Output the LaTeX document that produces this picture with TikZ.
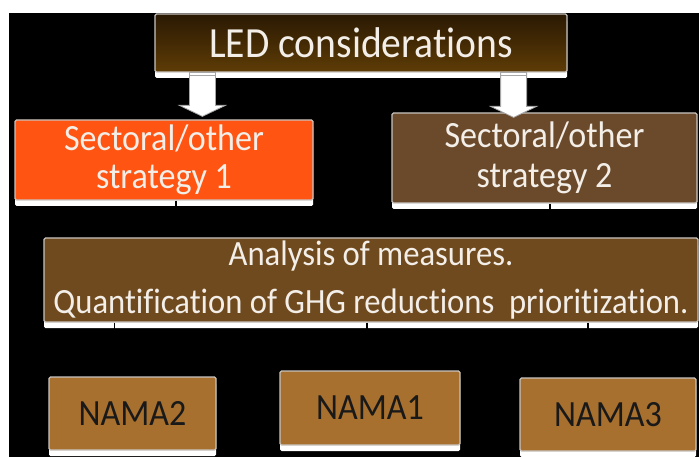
\documentclass[tikz,border=0pt]{standalone}
\usepackage{fontspec}
\setmainfont{Carlito}[FakeStretch=0.92, Ligatures=NoCommon]
\usetikzlibrary{calc,shadows}

\definecolor{ledtop}{HTML}{2A1903}
\definecolor{ledbot}{HTML}{5E3C06}
\definecolor{strorange}{HTML}{FF5412}
\definecolor{strbrown}{HTML}{6B4A2B}
\definecolor{anbrown}{HTML}{6F4A1E}
\definecolor{namabrown}{HTML}{A8702E}
\definecolor{softwhite}{HTML}{F3EEE8}
\definecolor{rim}{HTML}{C8C4C0}

\tikzset{
  box/.style={draw=rim, line width=1.2pt, rounded corners=1.5pt,
    inner sep=0pt, align=center, text=softwhite,
    drop shadow={shadow xshift=0pt, shadow yshift=-6pt, fill=white, opacity=1}},
  namabox/.style={box, fill=namabrown, text=black!90,
    font=\fontsize{37}{40}\selectfont},
  link/.style={draw=black, line width=1.6pt},
  arrowbody/.style={fill=white, draw=gray!70, line width=0.8pt, line join=miter}
}

\begin{document}
\begin{tikzpicture}[x=1pt,y=-1pt]
  % page and dark panel
  \fill[white] (0,0) rectangle (699,457);
  \fill[black] (9,13) rectangle (699,457);
  \useasboundingbox (0,0) rectangle (699,457);

  % boxes
  \node[box, top color=ledtop, bottom color=ledbot,
        minimum width=412pt, minimum height=58pt,
        font=\fontsize{43}{46}\selectfont] (led) at (361,43) {LED considerations};
  \node[box, fill=strorange, minimum width=298pt, minimum height=80pt,
        font=\fontsize{37}{38}\selectfont] (s1) at (164,160) {Sectoral/other\\strategy 1};
  \node[box, fill=strbrown, minimum width=305pt, minimum height=90pt,
        font=\fontsize{37}{40}\selectfont] (s2) at (544.5,158) {Sectoral/other\\strategy 2};
  \node[box, fill=anbrown, minimum width=654pt, minimum height=84pt,
        font=\fontsize{35.5}{48}\selectfont] (an) at (371,280)
        {Analysis of measures.\\Quantification of GHG reductions\ \ prioritization.};
  \node[namabox, minimum width=167pt, minimum height=73pt] (n2) at (132.5,413.5) {NAMA2};
  \node[namabox, minimum width=180pt, minimum height=74pt] (n1) at (370,408) {NAMA1};
  \node[namabox, minimum width=176pt, minimum height=73pt] (n3) at (608,414.5) {NAMA3};

  % block arrows from the top box to the two strategies
  \coordinate (ta) at ([xshift=48pt]led.south west);
  \coordinate (tb) at ([xshift=-54pt]led.south east);
  \coordinate (ha) at ([yshift=3pt]ta |- s1.north);
  \coordinate (hb) at ([yshift=-5pt]tb |- s2.north);
  \draw[arrowbody] let \p1=(ta), \p2=(ha) in
    (\x1-13pt,\y1) -- (\x1+13pt,\y1) -- (\x1+13pt,\y2+11pt) -- (\x1+23pt,\y2+11pt)
    -- (\x1,\y2) -- (\x1-23pt,\y2+11pt) -- (\x1-13pt,\y2+11pt) -- cycle;
  \draw[arrowbody] let \p1=(tb), \p2=(hb) in
    (\x1-13pt,\y1) -- (\x1+13pt,\y1) -- (\x1+13pt,\y2+11pt) -- (\x1+23pt,\y2+11pt)
    -- (\x1,\y2) -- (\x1-23pt,\y2+11pt) -- (\x1-13pt,\y2+11pt) -- cycle;
  \draw[gray!70, line width=0.8pt] let \p1=(ta) in (\x1-13pt,\y1-3pt) -- (\x1+13pt,\y1-3pt);
  \draw[gray!70, line width=0.8pt] let \p1=(tb) in (\x1-13pt,\y1-3pt) -- (\x1+13pt,\y1-3pt);

  % connectors
  \draw[link] ([xshift=12pt]s1.south) -- ([xshift=12pt]s1.south |- an.north);
  \draw[link] ([xshift=5.5pt]s2.south) -- ([xshift=5.5pt]s2.south |- an.north);
  \draw[link] ([xshift=-18pt]n2.north |- an.south) -- ([xshift=-18pt]n2.north);
  \draw[link] ([xshift=-3pt]n1.north |- an.south) -- ([xshift=-3pt]n1.north);
  \draw[link] ([xshift=-20pt]n3.north |- an.south) -- ++(0,20) -| ([xshift=7pt]n3.north);
\end{tikzpicture}
\end{document}
